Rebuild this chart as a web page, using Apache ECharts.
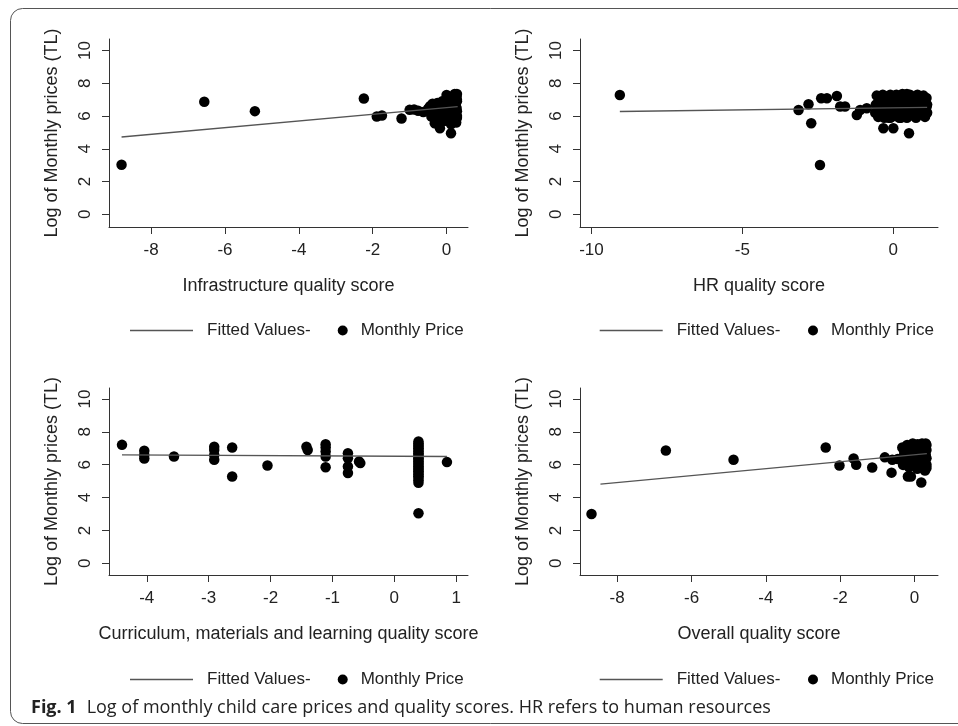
<!DOCTYPE html>
<html>
<head>
<meta charset="utf-8">
<script src="https://cdn.jsdelivr.net/npm/echarts@6/dist/echarts.min.js"></script>
<style>
html,body{margin:0;padding:0;background:#fff;}
#main{width:958px;height:726px;}
</style>
</head>
<body>
<div id="main"></div>
<script>
// panel titles (x axis names)
var xNames = ['Infrastructure quality score', 'HR quality score',
	'Curriculum, materials and learning quality score', 'Overall quality score'];
var yName = 'Log of Monthly prices (TL)';

// tick labels
var xTicks = [[-8, -6, -4, -2, 0], [-10, -5, 0], [-4, -3, -2, -1, 0, 1], [-8, -6, -4, -2, 0]];
var yTicks = [0, 2, 4, 6, 8, 10];

// fitted values (line end points)
var fitInfra = [[-8.8, 4.72], [0.3, 6.58]];
var fitHR = [[-9.06, 6.28], [1.12, 6.53]];
var fitCurr = [[-4.4, 6.6], [0.85, 6.5]];
var fitOverall = [[-8.45, 4.82], [0.33, 6.68]];

// monthly prices
var infraPts = [
	[-8.8, 3.02], [-6.56, 6.88], [-5.19, 6.30], [-2.24, 7.07], [-1.89, 5.97], [-1.75, 6.03], [-1.22, 5.85],
	[-1.0, 6.38], [-0.88, 6.4], [-0.77, 6.33], [-0.63, 6.25], [-0.5, 6.45], [-0.45, 6.6], [-0.41, 5.97],
	[-0.38, 6.75], [-0.35, 6.45], [-0.32, 5.56], [-0.3, 6.2], [-0.28, 5.85], [-0.25, 6.8], [-0.22, 6.4],
	[-0.18, 5.26], [-0.18, 6.6], [-0.15, 6.1], [-0.12, 6.9], [-0.1, 6.55], [-0.08, 5.7], [-0.05, 6.3],
	[0, 7.29], [0, 6.75], [0, 6.0], [0.02, 6.45], [0.05, 7.0], [0.05, 5.8], [0.08, 6.6], [0.1, 6.2],
	[0.1, 7.15], [0.12, 4.95], [0.12, 5.5], [0.15, 6.9], [0.15, 6.4], [0.18, 5.9], [0.2, 7.1], [0.2, 6.65],
	[0.22, 7.35], [0.22, 6.1], [0.25, 6.8], [0.25, 5.7], [0.27, 6.5], [0.27, 7.2], [0.28, 6.3], [0.28, 6.9],
	[0.28, 5.9], [0.28, 7.35], [0.28, 6.0], [0.28, 7.0], [0.26, 5.6]
];
var hrPts = [
	[-9.06, 7.29], [-3.14, 6.37], [-2.81, 6.72], [-2.72, 5.56], [-2.43, 3.01], [-2.39, 7.09], [-2.2, 7.09],
	[-1.87, 7.23], [-1.76, 6.58], [-1.6, 6.58], [-1.21, 6.07], [-1.1, 6.37], [-0.88, 6.48], [-0.33, 5.26],
	[0.0, 5.26], [0.52, 4.95],
	[-0.6, 6.2], [-0.58, 6.7], [-0.55, 7.25], [-0.5, 5.95], [-0.5, 6.45], [-0.45, 7.0], [-0.4, 6.1],
	[-0.4, 6.75], [-0.35, 7.3], [-0.3, 5.9], [-0.3, 6.4], [-0.25, 6.9], [-0.2, 6.15], [-0.2, 7.2],
	[-0.15, 6.6], [-0.1, 5.9], [-0.1, 7.3], [-0.05, 6.35], [0, 6.85], [0, 7.1], [0.05, 6.0], [0.05, 6.55],
	[0.1, 7.3], [0.15, 6.2], [0.15, 6.8], [0.2, 5.9], [0.2, 7.0], [0.25, 6.45], [0.3, 7.35], [0.3, 6.0],
	[0.35, 6.7], [0.4, 6.25], [0.4, 7.2], [0.45, 5.9], [0.5, 6.9], [0.5, 6.5], [0.55, 7.3], [0.6, 6.05],
	[0.6, 6.7], [0.65, 7.1], [0.7, 6.35], [0.75, 5.9], [0.75, 6.9], [0.8, 7.3], [0.85, 6.55], [0.9, 6.1],
	[0.9, 7.05], [0.95, 6.75], [1.0, 7.25], [1.0, 6.3], [1.05, 5.95], [1.05, 6.85], [1.1, 6.55],
	[1.1, 7.1], [1.12, 6.7], [1.12, 6.2], [0.45, 7.35], [-0.15, 5.9], [0.25, 5.9]
];
var currPts = [
	[-4.4, 7.21], [-4.04, 6.85], [-4.04, 6.6], [-4.04, 6.38], [-3.56, 6.5], [-2.91, 7.1], [-2.91, 6.9],
	[-2.91, 6.6], [-2.91, 6.3], [-2.62, 7.05], [-2.62, 5.28], [-2.05, 5.95], [-1.42, 7.1], [-1.4, 6.9],
	[-1.11, 7.25], [-1.11, 7.05], [-1.11, 6.8], [-1.11, 6.5], [-1.11, 5.85], [-0.75, 6.7], [-0.75, 6.4],
	[-0.75, 5.9], [-0.75, 5.5], [-0.57, 6.2], [-0.55, 6.1], [0.85, 6.16],
	[0.39, 7.41], [0.39, 7.3], [0.39, 7.2], [0.39, 7.1], [0.39, 7.0], [0.39, 6.9], [0.39, 6.8], [0.39, 6.7],
	[0.39, 6.6], [0.39, 6.5], [0.39, 6.4], [0.39, 6.3], [0.39, 6.2], [0.39, 6.1], [0.39, 6.0], [0.39, 5.9],
	[0.39, 5.8], [0.39, 5.7], [0.39, 5.6], [0.39, 5.5], [0.39, 5.4], [0.39, 5.3], [0.39, 5.2], [0.39, 5.05],
	[0.39, 4.9], [0.39, 3.05]
];
var overallPts = [
	[-8.69, 3.0], [-6.69, 6.87], [-4.87, 6.3], [-2.39, 7.05], [-2.02, 5.95], [-1.64, 6.38], [-1.57, 6.0],
	[-1.14, 5.83], [-0.8, 6.45], [-0.62, 5.52], [-0.6, 6.3], [-0.45, 6.35], [-0.31, 5.99], [-0.18, 5.28],
	[-0.1, 5.28], [0.18, 4.92],
	[-0.33, 7.05], [-0.3, 6.5], [-0.28, 6.8], [-0.25, 6.2], [-0.2, 7.2], [-0.18, 6.6], [-0.15, 5.85],
	[-0.12, 6.95], [-0.1, 6.35], [-0.05, 7.3], [-0.03, 6.7], [0, 6.05], [0.02, 7.0], [0.05, 6.45],
	[0.07, 5.75], [0.08, 7.25], [0.1, 6.8], [0.12, 6.2], [0.15, 7.05], [0.17, 6.55], [0.2, 5.9], [0.2, 7.3],
	[0.22, 6.85], [0.25, 6.3], [0.27, 7.1], [0.28, 5.65], [0.3, 6.6], [0.3, 7.3], [0.32, 6.0], [0.32, 6.9],
	[0.32, 6.4], [0.32, 7.2], [0.32, 5.8]
];

var fits = [fitInfra, fitHR, fitCurr, fitOverall];
var pts = [infraPts, hrPts, currPts, overallPts];

var font = '"Liberation Sans", Arial, sans-serif';
var grids = [
	{left: 109, top: 39, width: 359, height: 188},
	{left: 580, top: 39, width: 358, height: 188},
	{left: 109, top: 388, width: 359, height: 187},
	{left: 580, top: 388, width: 358, height: 187}
];
var xRange = [[-9.14, 0.58], [-10.38, 1.48], [-4.61, 1.19], [-9.0, 0.63]];
var yRange = [[-0.78, 10.71], [-0.78, 10.71], [-0.71, 10.67], [-0.71, 10.67]];
var legendPos = [[125, 332.7, 317], [594.7, 803, 317], [125, 332.7, 666], [594.7, 803, 666]];

var xAxes = [], yAxes = [], series = [], legends = [];
for (var i = 0; i < 4; i++) {
	xAxes.push({
		type: 'value', gridIndex: i, min: xRange[i][0], max: xRange[i][1],
		name: xNames[i], nameLocation: 'middle', nameGap: 50,
		nameTextStyle: {fontSize: 18, color: '#222', fontFamily: font},
		axisLine: {onZero: false, lineStyle: {color: '#333', width: 1}},
		axisTick: {customValues: xTicks[i], length: 7, lineStyle: {color: '#333'}},
		axisLabel: {customValues: xTicks[i], fontSize: 17, margin: 15, color: '#222', fontFamily: font},
		splitLine: {show: false}
	});
	yAxes.push({
		type: 'value', gridIndex: i, min: yRange[i][0], max: yRange[i][1],
		name: yName, nameLocation: 'middle', nameGap: 48,
		nameTextStyle: {fontSize: 18, color: '#222', fontFamily: font},
		axisLine: {show: true, onZero: false, lineStyle: {color: '#333', width: 1}},
		axisTick: {show: true, customValues: yTicks, length: 7, lineStyle: {color: '#333'}},
		axisLabel: {customValues: yTicks, fontSize: 17, margin: 15, rotate: 90, color: '#222', fontFamily: font},
		splitLine: {show: false}
	});
	series.push({
		type: 'line', name: 'Fitted Values-', xAxisIndex: i, yAxisIndex: i,
		data: fits[i], symbol: 'none', color: '#555',
		lineStyle: {color: '#555', width: 1.3}
	});
	series.push({
		type: 'scatter', name: 'Monthly Price', xAxisIndex: i, yAxisIndex: i,
		data: pts[i], symbolSize: 10.5, itemStyle: {color: '#000', opacity: 1}
	});
	legends.push({
		left: legendPos[i][0], top: legendPos[i][2], itemWidth: 63, itemHeight: 1.5,
		data: [{name: 'Fitted Values-', icon: 'rect', itemStyle: {color: '#555'}}],
		textStyle: {fontSize: 17, color: '#222', fontFamily: font, padding: [0, 0, 0, 9]}
	});
	legends.push({
		left: legendPos[i][1], top: legendPos[i][2], itemWidth: 10, itemHeight: 10,
		data: [{name: 'Monthly Price', icon: 'circle', itemStyle: {color: '#000', opacity: 1}}],
		textStyle: {fontSize: 17, color: '#222', fontFamily: font, padding: [0, 0, 0, 8]}
	});
}

var chart = echarts.init(document.getElementById('main'));
chart.setOption({
	backgroundColor: '#fff',
	animation: false,
	title: {
		left: 26, top: 694,
		text: '{b|Fig. 1}  {n|Log of monthly child care prices and quality scores. HR refers to human resources}',
		textStyle: {
			fontWeight: 'normal',
			rich: {
				b: {fontSize: 18, fontWeight: 'bold', color: '#222', fontFamily: '"Open Sans", sans-serif'},
				n: {fontSize: 18, fontWeight: 'normal', color: '#222', fontFamily: '"Open Sans", sans-serif'}
			}
		}
	},
	graphic: [{
		type: 'rect', silent: true,
		shape: {x: 10.5, y: 8.5, width: 1000, height: 715, r: 12},
		style: {fill: 'none', stroke: '#555', lineWidth: 1}
	}],
	grid: grids,
	xAxis: xAxes,
	yAxis: yAxes,
	legend: legends,
	series: series
});
</script>
</body>
</html>
